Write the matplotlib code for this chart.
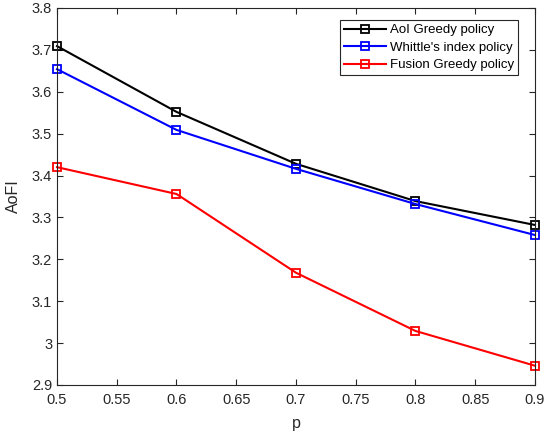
import matplotlib
matplotlib.use("Agg")
import matplotlib.pyplot as plt

plt.rcParams['font.family'] = ['Liberation Sans', 'DejaVu Sans']

p = [0.5, 0.6, 0.7, 0.8, 0.9]
aoi_greedy = [3.709, 3.552, 3.428, 3.339, 3.282]
whittle = [3.654, 3.509, 3.416, 3.332, 3.258]
fusion_greedy = [3.420, 3.356, 3.168, 3.029, 2.946]

labels = ["AoI Greedy policy", "Whittle's index policy", "Fusion Greedy policy"]
colors = ["black", "blue", "red"]

fig = plt.figure(figsize=(5.45, 4.37), dpi=100)
ax = fig.add_axes([0.1046, 0.119, 0.877, 0.8627])

for ys, lab, c in zip([aoi_greedy, whittle, fusion_greedy], labels, colors):
    ax.plot(p, ys, color=c, lw=1.5, marker='s', markersize=6,
            markerfacecolor='none', markeredgewidth=1.3, label=lab, clip_on=False)

ax.set_xlim(0.5, 0.9)
ax.set_ylim(2.9, 3.8)
ax.set_xticks([0.5, 0.55, 0.6, 0.65, 0.7, 0.75, 0.8, 0.85, 0.9])
ax.set_xticklabels(['0.5', '0.55', '0.6', '0.65', '0.7', '0.75', '0.8', '0.85', '0.9'])
ax.set_yticks([2.9, 3.0, 3.1, 3.2, 3.3, 3.4, 3.5, 3.6, 3.7, 3.8])
ax.set_yticklabels(['2.9', '3', '3.1', '3.2', '3.3', '3.4', '3.5', '3.6', '3.7', '3.8'])

gray = '#262626'
for s in ax.spines.values():
    s.set_color(gray)
    s.set_linewidth(0.8)
ax.tick_params(direction='in', top=True, right=True, length=4, width=0.8,
               colors=gray, labelsize=10.5, labelcolor=gray)
ax.tick_params(axis='x', pad=6)
ax.set_xlabel('p', fontsize=11.5, color=gray, labelpad=6)
ax.set_ylabel('AoFI', fontsize=11.5, color=gray, labelpad=8)

leg = ax.legend(loc='upper right', bbox_to_anchor=(0.964, 0.968), fontsize=9.5,
                frameon=True, fancybox=False, edgecolor=gray, framealpha=1,
                borderpad=0.3, labelspacing=0.4, handlelength=3.2,
                handletextpad=0.3, borderaxespad=0)
leg.get_frame().set_linewidth(0.8)

fig.savefig('out.png', dpi=100)
